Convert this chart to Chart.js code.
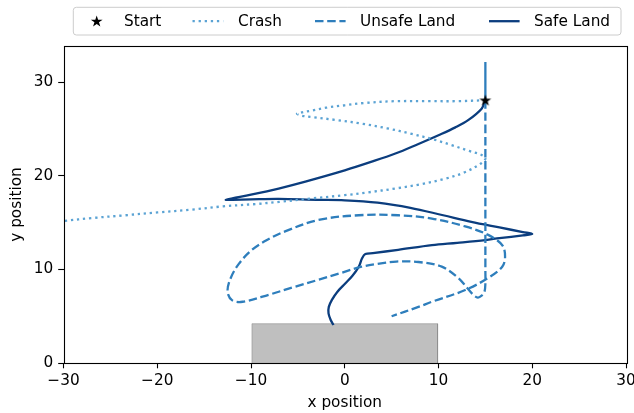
<!DOCTYPE html>
<html>
<head>
<meta charset="utf-8">
<script src="https://cdn.jsdelivr.net/npm/chart.js@4.4.0/dist/chart.umd.min.js"></script>
<style>
  html, body { margin: 0; padding: 0; background: #fff; }
  #wrap { width: 634px; height: 413px; }
</style>
</head>
<body>
<div id="wrap"><canvas id="plot" width="634" height="413"></canvas></div>
<script>
// values
const startX = [15.0];
const startY = [28.1];

const crashX = [15.0, 12.0, 9.0, 5.4, 2.0, 0.0, -2.0, -3.5, -4.6, -5.1, -4.6, -3.5, -1.0, 1.8, 4.5, 7.15, 9.5, 11.4, 13.2, 14.6, 15.0, 14.4, 12.8, 10.7, 8.0, 5.4, 2.5, 0.0, -3.5, -7.0, -9.5, -13.0, -16.3, -20.0, -23.4, -27.0, -29.9];
const crashY = [28.1, 28.0, 28.0, 28.0, 27.8, 27.56, 27.3, 27.0, 26.8, 26.65, 26.45, 26.3, 26.0, 25.6, 25.1, 24.5, 23.9, 23.3, 22.7, 22.25, 21.85, 21.25, 20.4, 19.7, 19.1, 18.66, 18.25, 17.95, 17.6, 17.23, 17.0, 16.75, 16.4, 16.1, 15.8, 15.5, 15.2];

const unsafeX = [15.0, 15.0, 15.0, 15.0, 15.0, 15.0, 15.0, 15.0, 15.0, 15.0, 14.9, 14.6, 14.2, 13.7, 13.0, 12.1, 10.35, 7.86, 5.5, 3.5, 1.8, -0.5, -2.8, -5.5, -8.1, -10.9, -12.0, -12.5, -12.2, -11.3, -9.9, -8.2, -6.3, -2.8, 1.5, 5.7, 9.3, 12.85, 15.3, 16.8, 17.1, 16.8, 15.3, 12.85, 9.3, 7.86, 5.0];
const unsafeY = [28.1, 30.2, 32.2, 30.2, 28.1, 25.0, 20.0, 15.0, 10.0, 8.5, 7.6, 7.2, 7.0, 7.3, 8.1, 9.1, 10.3, 10.8, 10.85, 10.6, 10.3, 9.6, 8.9, 8.1, 7.3, 6.55, 6.7, 7.6, 9.0, 10.6, 12.1, 13.2, 14.1, 15.3, 15.8, 15.8, 15.45, 14.6, 13.7, 12.6, 11.4, 10.3, 9.1, 7.8, 6.55, 6.0, 5.0];

const safeX = [15.0, 14.6, 13.2, 11.8, 10.0, 7.8, 5.4, 2.8, 0.0, -4.2, -7.05, -10.0, -12.0, -12.7, -12.0, -10.0, -7.05, -3.0, 0.0, 3.5, 7.0, 10.5, 13.5, 16.5, 19.0, 20.0, 19.0, 16.5, 15.0, 12.0, 9.3, 5.7, 3.0, 2.2, 1.85, 1.5, 0.8, 0.05, -0.8, -1.37, -1.7, -1.73, -1.5, -1.2];
const safeY = [28.1, 27.2, 26.0, 25.2, 24.36, 23.4, 22.4, 21.5, 20.6, 19.4, 18.66, 18.0, 17.6, 17.45, 17.45, 17.5, 17.55, 17.45, 17.4, 17.15, 16.6, 15.8, 15.1, 14.5, 14.0, 13.8, 13.65, 13.35, 13.15, 12.85, 12.6, 12.1, 11.75, 11.65, 11.2, 10.3, 9.3, 8.5, 7.6, 6.75, 6.0, 5.3, 4.6, 4.06];

const padX = [-9.9, -9.9, 9.9, 9.9];
const padY = [0, 4.2, 4.2, 0];

const xTicks = [-30, -20, -10, 0, 10, 20, 30];
const yTicks = [0, 10, 20, 30];
const xRange = [-30, 30];
const yRange = [0, 33.9];

const legendLabels = ["Start", "Crash", "Unsafe Land", "Safe Land"];

const toPoints = (xs, ys) => xs.map((x, i) => ({ x: x, y: ys[i] }));
const fmt = v => String(v).replace('-', '\u2212');

const FONT = 'DejaVu Sans';
const FS = 15.3;
Chart.defaults.font.family = FONT;
Chart.defaults.font.size = FS;
Chart.defaults.color = '#000';

const DOTTED = [2.3, 3.8];
const DASHED = [8.5, 3.7];

function starPath(ctx, cx, cy, R) {
  const r = R * 0.382;
  ctx.beginPath();
  for (let i = 0; i < 10; i++) {
    const ang = -Math.PI / 2 + i * Math.PI / 5;
    const rad = i % 2 ? r : R;
    ctx.lineTo(cx + rad * Math.cos(ang), cy + rad * Math.sin(ang));
  }
  ctx.closePath();
}

// star marker image
const starImg = document.createElement('canvas');
starImg.width = 14; starImg.height = 14;
(function () {
  const c = starImg.getContext('2d');
  starPath(c, 7, 7.4, 6.2);
  c.fillStyle = '#000';
  c.fill();
})();

const framePlugin = {
  id: 'frameAndLegend',
  afterDraw(chart) {
    const ctx = chart.ctx;
    const a = chart.chartArea;
    ctx.save();
    // axes box
    ctx.strokeStyle = '#000';
    ctx.lineWidth = 1.1;
    ctx.setLineDash([]);
    ctx.strokeRect(Math.round(a.left) + 0.5, Math.round(a.top) + 0.5,
      Math.round(a.right - a.left), Math.round(a.bottom - a.top));

    // legend frame
    const bx = 73.3, by = 7.3, bw = 621 - 73.3, bh = 35 - 7.3;
    ctx.beginPath();
    ctx.roundRect(bx, by, bw, bh, 3);
    ctx.fillStyle = 'rgba(255,255,255,0.8)';
    ctx.fill();
    ctx.strokeStyle = '#cccccc';
    ctx.lineWidth = 1;
    ctx.stroke();

    const cy = 21.2;
    const handles = [[96.7, 96.7], [192.5, 223.2], [315, 345.6], [489, 519.6]];
    const textX = [124, 238, 360, 534];
    const ds = chart.data.datasets;
    ctx.font = FS + 'px "' + FONT + '"';
    ctx.textBaseline = 'middle';
    ctx.fillStyle = '#000';
    for (let i = 0; i < legendLabels.length; i++) {
      const h = handles[i];
      if (i === 0) {
        starPath(ctx, h[0], cy + 0.4, 6.2);
        ctx.fillStyle = '#000';
        ctx.fill();
      } else {
        ctx.beginPath();
        ctx.setLineDash(ds[i].borderDash || []);
        ctx.strokeStyle = ds[i].borderColor;
        ctx.lineWidth = ds[i].borderWidth;
        ctx.moveTo(h[0], cy);
        ctx.lineTo(h[1], cy);
        ctx.stroke();
        ctx.setLineDash([]);
      }
      ctx.fillStyle = '#000';
      ctx.fillText(legendLabels[i], textX[i], cy + 0.5);
    }
    ctx.restore();
  }
};

new Chart(document.getElementById('plot'), {
  type: 'scatter',
  data: {
    datasets: [
      {
        label: legendLabels[0],
        data: toPoints(startX, startY),
        pointStyle: starImg,
        pointRadius: 7,
        showLine: false
      },
      {
        label: legendLabels[1],
        data: toPoints(crashX, crashY),
        showLine: true,
        borderColor: '#5ba3d4',
        borderWidth: 2.3,
        borderDash: DOTTED,
        pointRadius: 0,
        tension: 0.35,
        fill: false
      },
      {
        label: legendLabels[2],
        data: toPoints(unsafeX, unsafeY),
        showLine: true,
        borderColor: '#2e7ebc',
        borderWidth: 2.3,
        borderDash: DASHED,
        pointRadius: 0,
        tension: 0.35,
        fill: false,
        segment: {
          // the climb and return overlap on the same line, which reads as solid
          borderDash: c => (c.p0.parsed.y > 28.15 || c.p1.parsed.y > 28.15) ? [] : DASHED
        }
      },
      {
        label: legendLabels[3],
        data: toPoints(safeX, safeY),
        showLine: true,
        borderColor: '#0b3d7e',
        borderWidth: 2.3,
        pointRadius: 0,
        tension: 0.35,
        fill: false
      },
      {
        label: 'pad',
        data: toPoints(padX, padY),
        showLine: true,
        borderColor: 'rgba(128,128,128,0.5)',
        backgroundColor: 'rgba(128,128,128,0.5)',
        borderWidth: 1,
        pointRadius: 0,
        tension: 0,
        fill: 'origin'
      }
    ]
  },
  options: {
    responsive: false,
    animation: false,
    devicePixelRatio: 1,
    layout: { padding: { top: 46, right: 6, bottom: 0, left: 0 } },
    plugins: {
      legend: { display: false },
      tooltip: { enabled: false },
      filler: { propagate: false }
    },
    scales: {
      x: {
        type: 'linear',
        min: xRange[0],
        max: xRange[1],
        afterBuildTicks: s => { s.ticks = xTicks.map(v => ({ value: v })); },
        afterFit: s => { s.height = 50; s.paddingLeft = 0; s.paddingRight = 0; },
        grid: { drawOnChartArea: false, drawTicks: true, tickLength: 5.3, tickColor: '#000', tickWidth: 1.1 },
        border: { display: false },
        ticks: { padding: 4, maxRotation: 0, callback: v => fmt(v), color: '#000' },
        title: { display: true, text: 'x position', padding: { top: 0, bottom: 1 }, color: '#000' }
      },
      y: {
        type: 'linear',
        min: yRange[0],
        max: yRange[1],
        afterBuildTicks: s => { s.ticks = yTicks.map(v => ({ value: v })); },
        afterFit: s => { s.width = 63.5; s.paddingTop = 0; s.paddingBottom = 0; },
        grid: { drawOnChartArea: false, drawTicks: true, tickLength: 5.3, tickColor: '#000', tickWidth: 1.1 },
        border: { display: false },
        ticks: { padding: 5, callback: v => fmt(v), color: '#000' },
        title: { display: true, text: 'y position', padding: { top: 8, bottom: 0 }, color: '#000' }
      }
    }
  },
  plugins: [framePlugin]
});
</script>
</body>
</html>
